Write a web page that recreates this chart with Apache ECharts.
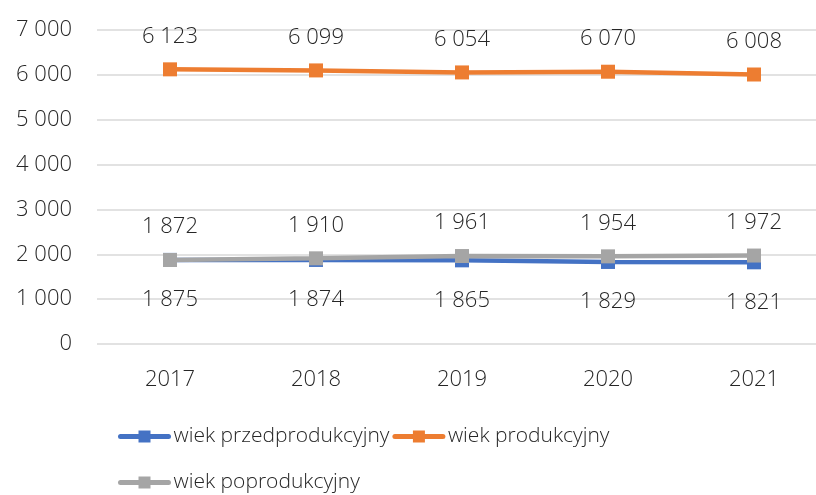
<!DOCTYPE html>
<html>
<head>
<meta charset="utf-8">
<script src="https://cdn.jsdelivr.net/npm/echarts@6/dist/echarts.min.js"></script>
<style>
  html, body { margin: 0; padding: 0; background: #fff; }
  #chart { width: 816px; height: 495px; }
</style>
</head>
<body>
<div id="chart"></div>
<script>
const years = ['2017', '2018', '2019', '2020', '2021'];
const przedprodukcyjny = [1875, 1874, 1865, 1829, 1821];
const produkcyjny = [6123, 6099, 6054, 6070, 6008];
const poprodukcyjny = [1872, 1910, 1961, 1954, 1972];

const COLORS = {
  blue:   '#4472C4',
  orange: '#ED7D31',
  gray:   '#A5A5A5',
  grid:   '#D9D9D9',
  text:   '#262626',
};
const FONT = '"Open Sans", sans-serif';

function fmt(v) {
  return String(v).replace(/\B(?=(\d{3})+(?!\d))/g, ' ');
}

function lineSeries(name, data, color, labelPos, labelDist) {
  return {
    name,
    type: 'line',
    data,
    symbol: 'rect',
    symbolSize: 14,
    lineStyle: { color, width: 4.5 },
    itemStyle: { color },
    label: {
      show: true,
      position: labelPos,
      distance: labelDist,
      color: COLORS.text,
      fontFamily: FONT,
      fontWeight: 300,
      fontSize: 22,
      formatter: (p) => fmt(p.value),
    },
  };
}

const legendBase = {
  padding: 0,
  itemWidth: 48, itemHeight: 15, itemGap: 3,
  lineStyle: { width: 5, cap: 'round' },
  textStyle: { color: COLORS.text, fontFamily: FONT, fontWeight: 300, fontSize: 21 },
};

const chart = echarts.init(document.getElementById('chart'), null, { renderer: 'canvas' });
chart.setOption({
  backgroundColor: '#fff',
  animation: false,
  grid: { left: 97, top: 30, width: 730, height: 314, outerBoundsMode: 'none' },
  legend: [
    Object.assign({ data: ['wiek przedprodukcyjny', 'wiek produkcyjny'], left: 118, top: 426 }, legendBase),
    Object.assign({ data: ['wiek poprodukcyjny'], left: 118, top: 472 }, legendBase),
  ],
  xAxis: {
    type: 'category',
    data: years,
    boundaryGap: true,
    axisLine: { show: false },
    axisTick: { show: false },
    axisLabel: { color: COLORS.text, fontFamily: FONT, fontWeight: 300, fontSize: 22, margin: 25 },
  },
  yAxis: {
    type: 'value',
    min: 0,
    max: 7000,
    interval: 1000,
    axisLine: { show: false },
    axisTick: { show: false },
    splitLine: { lineStyle: { color: COLORS.grid, width: 1.5 } },
    axisLabel: {
      color: COLORS.text, fontFamily: FONT, fontWeight: 300, fontSize: 22, margin: 25,
      formatter: (v) => fmt(v),
    },
  },
  series: [
    lineSeries('wiek przedprodukcyjny', przedprodukcyjny, COLORS.blue, 'bottom', 22),
    lineSeries('wiek produkcyjny', produkcyjny, COLORS.orange, 'top', 15),
    lineSeries('wiek poprodukcyjny', poprodukcyjny, COLORS.gray, 'top', 15),
  ],
});
</script>
</body>
</html>
